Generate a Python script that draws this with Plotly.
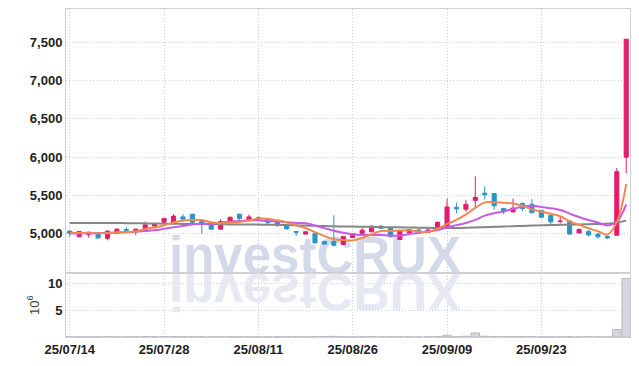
import plotly.graph_objects as go

dates = [
    "2025-07-14", "2025-07-15", "2025-07-16", "2025-07-17", "2025-07-18",
    "2025-07-21", "2025-07-22", "2025-07-23", "2025-07-24", "2025-07-25",
    "2025-07-28", "2025-07-29", "2025-07-30", "2025-07-31", "2025-08-01",
    "2025-08-04", "2025-08-05", "2025-08-06", "2025-08-07", "2025-08-08",
    "2025-08-11", "2025-08-12", "2025-08-13", "2025-08-14",
    "2025-08-18", "2025-08-19", "2025-08-20", "2025-08-21", "2025-08-22",
    "2025-08-25", "2025-08-26", "2025-08-27", "2025-08-28", "2025-08-29",
    "2025-09-01", "2025-09-02", "2025-09-03", "2025-09-04", "2025-09-05",
    "2025-09-08", "2025-09-09", "2025-09-10", "2025-09-11", "2025-09-12",
    "2025-09-15", "2025-09-16", "2025-09-17", "2025-09-18", "2025-09-19",
    "2025-09-22", "2025-09-23", "2025-09-24", "2025-09-25", "2025-09-26",
    "2025-09-29", "2025-09-30", "2025-10-01", "2025-10-02",
    "2025-10-10", "2025-10-13",
]

opens = [5035, 4960, 4990, 5000, 4940, 5005, 5055, 5025, 5055, 5100,
         5150, 5145, 5220, 5255, 5165, 5120, 5060, 5155, 5255, 5190,
         5210, 5195, 5160, 5100, 5030, 4995, 5000, 4900, 4900, 4860,
         4950, 5005, 5025, 5100, 5070, 4925, 5010, 5050, 5020, 5065,
         5090, 5345, 5320, 5435, 5530, 5525, 5330, 5285, 5395, 5385,
         5305, 5240, 5160, 5165, 5010, 5030, 4995, 4965, 4980, 6000]
highs = [5040, 5035, 5025, 5005, 5040, 5065, 5090, 5065, 5160, 5140,
         5205, 5255, 5255, 5260, 5175, 5125, 5190, 5225, 5260, 5250,
         5225, 5200, 5165, 5105, 5035, 5030, 5005, 4905, 5240, 4970,
         5005, 5075, 5105, 5105, 5075, 5040, 5060, 5060, 5075, 5160,
         5460, 5405, 5440, 5750, 5620, 5530, 5335, 5460, 5410, 5450,
         5310, 5245, 5230, 5170, 5070, 5045, 5010, 4975, 5860, 7540]
lows = [4960, 4955, 4950, 4940, 4915, 5000, 5015, 4980, 5050, 5090,
        5140, 5140, 5150, 5140, 5000, 5050, 5055, 5150, 5140, 5165,
        5180, 5125, 5090, 5050, 4970, 4990, 4875, 4860, 4830, 4855,
        4945, 5000, 5020, 5065, 4955, 4920, 5005, 5020, 5015, 5060,
        5085, 5265, 5285, 5350, 5445, 5315, 5255, 5280, 5295, 5265,
        5205, 5110, 5135, 4990, 5005, 4965, 4935, 4930, 4975, 5790]
closes = [5005, 5030, 5020, 4945, 5035, 5060, 5045, 5060, 5115, 5130,
          5200, 5230, 5190, 5150, 5125, 5060, 5160, 5215, 5200, 5220,
          5195, 5145, 5115, 5065, 5020, 5025, 4880, 4865, 4850, 4965,
          5000, 5045, 5100, 5070, 4960, 5035, 5055, 5025, 5050, 5150,
          5350, 5325, 5385, 5475, 5510, 5365, 5285, 5335, 5330, 5275,
          5215, 5155, 5165, 4995, 5055, 4985, 4960, 4945, 5810, 7540]

# volume in millions of shares
volumes = [0.05, 0.04, 0.03, 0.05, 0.06, 0.04, 0.03, 0.04, 0.08, 0.05,
           0.06, 0.09, 0.06, 0.07, 0.05, 0.04, 0.05, 0.06, 0.05, 0.04,
           0.03, 0.04, 0.05, 0.04, 0.06, 0.03, 0.07, 0.05, 0.12, 0.06,
           0.04, 0.05, 0.06, 0.04, 0.06, 0.05, 0.04, 0.03, 0.04, 0.08,
           0.32, 0.06, 0.14, 0.75, 0.14, 0.08, 0.06, 0.08, 0.07, 0.06,
           0.05, 0.06, 0.05, 0.07, 0.04, 0.05, 0.04, 0.03, 1.40, 10.95]

ma5 = [5012, 5010, 5008, 5006, 5007, 5018, 5021, 5029, 5063, 5082,
       5110, 5147, 5173, 5180, 5179, 5151, 5137, 5142, 5152, 5171,
       5198, 5195, 5175, 5148, 5108, 5074, 5021, 4971, 4928, 4917,
       4912, 4945, 4992, 5036, 5035, 5042, 5044, 5029, 5025, 5063,
       5126, 5180, 5252, 5337, 5409, 5412, 5404, 5394, 5365, 5318,
       5288, 5262, 5228, 5161, 5117, 5071, 5032, 4988, 5151, 5648]
ma10 = [5002, 5004, 5006, 5009, 5012, 5016, 5020, 5026, 5034, 5045,
        5064, 5084, 5101, 5122, 5131, 5131, 5142, 5158, 5166, 5175,
        5175, 5166, 5159, 5150, 5140, 5136, 5108, 5073, 5038, 5013,
        4993, 4983, 4982, 4982, 4976, 4977, 4995, 5011, 5031, 5049,
        5084, 5112, 5141, 5181, 5236, 5269, 5292, 5323, 5351, 5364,
        5350, 5333, 5311, 5263, 5218, 5180, 5147, 5108, 5156, 5383]
ma60 = [5140, 5140, 5140, 5140, 5140, 5140, 5138, 5137, 5135, 5133,
        5131, 5130, 5128, 5127, 5126, 5125, 5124, 5122, 5121, 5120,
        5119, 5117, 5115, 5113, 5110, 5107, 5104, 5100, 5097, 5095,
        5093, 5091, 5089, 5087, 5085, 5083, 5081, 5079, 5077, 5075,
        5074, 5075, 5078, 5082, 5086, 5090, 5094, 5098, 5102, 5106,
        5110, 5113, 5116, 5119, 5122, 5125, 5128, 5131, 5145, 5171]

tick_dates = ["2025-07-14", "2025-07-28", "2025-08-11",
              "2025-08-26", "2025-09-09", "2025-09-23"]
tick_labels = ["25/07/14", "25/07/28", "25/08/11",
               "25/08/26", "25/09/09", "25/09/23"]
price_ticks = [5000, 5500, 6000, 6500, 7000, 7500]
volume_ticks = [5, 10]
watermark = "investCRUX"

UP = "#e31c6e"
DOWN = "#2b93c8"
GRID = "#c9cbdc"
FRAME = "#cfcfd4"
TICKFONT = dict(family="Liberation Sans, Arial, sans-serif", size=13,
                color="#222222", weight="bold")
PRICE_RANGE = [4493, 7935]
VOL_RANGE = [0, 12.06]
XR = [-0.4, 59.4]

fig = go.Figure()

# watermark (below candles, on the base price subplot; baseline set by script)
fig.add_trace(go.Scatter(
    x=[dates[26]], y=[4700], mode="text", text=[watermark],
    textposition="middle center", cliponaxis=False,
    textfont=dict(family="Liberation Sans, Arial, sans-serif", size=51,
                  color="#d4d9ea", weight="bold"),
    xaxis="x", yaxis="y", hoverinfo="skip", showlegend=False))

fig.add_trace(go.Candlestick(
    x=dates, open=opens, high=highs, low=lows, close=closes,
    increasing=dict(line=dict(color=UP, width=1), fillcolor=UP),
    decreasing=dict(line=dict(color=DOWN, width=1), fillcolor=DOWN),
    xaxis="x", yaxis="y3", hoverinfo="skip", showlegend=False))

for vals, col, w in [(ma60, "#858585", 2), (ma10, "#c95ae8", 2), (ma5, "#f0884f", 2)]:
    fig.add_trace(go.Scatter(
        x=dates, y=vals, mode="lines", line=dict(color=col, width=w, shape="spline"),
        xaxis="x", yaxis="y3", hoverinfo="skip", showlegend=False))

fig.add_trace(go.Bar(
    x=dates, y=volumes, marker=dict(color="#d6d6de", line=dict(color="#b9b9c2", width=1)),
    xaxis="x2", yaxis="y2", hoverinfo="skip", showlegend=False))

# reflection of watermark in volume panel (mirrored by script below)
fig.add_trace(go.Scatter(
    x=[dates[26]], y=[8], mode="text", text=[watermark],
    textposition="middle center", cliponaxis=False,
    textfont=dict(family="Liberation Sans, Arial, sans-serif", size=51,
                  color="#e7e9f2", weight="bold"),
    xaxis="x2", yaxis="y2", hoverinfo="skip", showlegend=False))

split = 0.1965
common_x = dict(type="category", categoryorder="array", categoryarray=dates,
                range=XR, tickvals=tick_dates, showgrid=True,
                gridcolor=GRID, griddash="1px,2px", gridwidth=1, showline=True,
                linecolor=FRAME, linewidth=1, mirror=True, ticks="",
                zeroline=False, rangeslider=dict(visible=False))

fig.update_layout(
    width=639, height=366,
    margin=dict(l=66, r=9, t=9, b=29),
    paper_bgcolor="white", plot_bgcolor="white",
    showlegend=False, boxgap=0.38, bargap=0.1,
    xaxis=dict(**common_x, domain=[0, 1], anchor="y", showticklabels=False),
    xaxis2=dict(**common_x, domain=[0, 1], anchor="y2", matches="x",
                ticktext=tick_labels, tickfont=TICKFONT),
    yaxis=dict(domain=[split, 1], range=PRICE_RANGE, tickvals=price_ticks,
               tickformat=",", showgrid=True, gridcolor=GRID, griddash="1px,2px",
               showline=True, linecolor=FRAME, mirror=True, ticks="",
               zeroline=False, tickfont=TICKFONT, anchor="x"),
    yaxis3=dict(overlaying="y", range=PRICE_RANGE, visible=False, anchor="x"),
    yaxis2=dict(domain=[0, split], range=VOL_RANGE, tickvals=volume_ticks,
                showgrid=True, gridcolor=GRID, griddash="1px,2px", showline=True,
                linecolor=FRAME, mirror=True, ticks="", zeroline=False,
                tickfont=TICKFONT, anchor="x2"),
    annotations=[dict(text="10<sup>6</sup>", textangle=-90, showarrow=False,
                      xref="paper", yref="y2 domain", x=-0.058, y=0.5,
                      xanchor="center", yanchor="middle",
                      font=dict(family="Liberation Sans, Arial, sans-serif",
                                size=13, color="#444444"))],
)

post = """
document.body.style.margin = '0';
document.body.style.padding = '0';
var gd = document.getElementById('{plot_id}');
function fixWatermark(){
  var fl = gd._fullLayout;
  if (!fl || !fl.yaxis) return;
  var H = fl.yaxis._length;
  gd.querySelectorAll('.subplot.xy .scatterlayer .textpoint text').forEach(function(el){
    el.parentNode.removeAttribute('transform');
    el.removeAttribute('transform');
    el.removeAttribute('dy');
    el.setAttribute('y', H);
  });
  gd.querySelectorAll('.subplot.x2y2 .scatterlayer .textpoint text').forEach(function(el){
    el.parentNode.removeAttribute('transform');
    el.removeAttribute('dy');
    el.setAttribute('y', -1);
    el.setAttribute('transform', 'scale(1,-1)');
  });
}
fixWatermark();
setTimeout(fixWatermark, 50); setTimeout(fixWatermark, 300);
if (gd.on) { gd.on('plotly_afterplot', fixWatermark); }
"""

fig.write_html("out.html", post_script=post, config={"displayModeBar": False})
